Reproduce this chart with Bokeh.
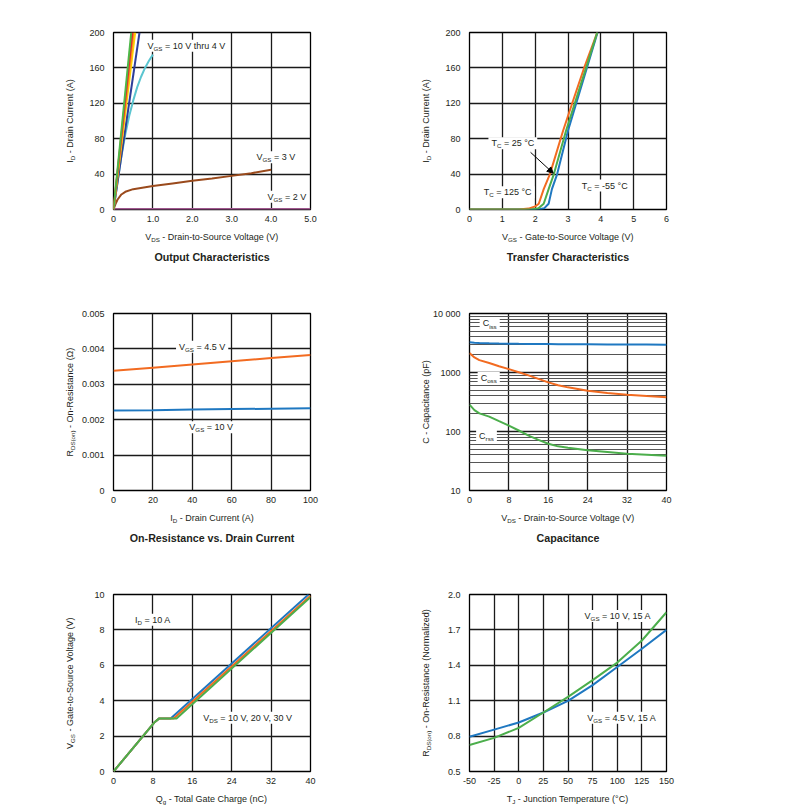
import math
from bokeh.plotting import figure
from bokeh.layouts import row, column
from bokeh.models import Range1d, FixedTicker, Label, Arrow, NormalHead
from bokeh.embed import file_html
from bokeh.resources import INLINE

FONT = "Liberation Sans"
INK = "#231f20"
FW, FH = 197, 177

# ---------------- data ----------------
# Output characteristics (VDS in V, ID in A)
oc_v_10 = [0, 0.45]; oc_i_10 = [0, 200]
oc_v_8 = [0, 0.48]; oc_i_8 = [0, 200]
oc_v_6 = [0, 0.51]; oc_i_6 = [0, 200]
oc_v_5 = [0, 0.55]; oc_i_5 = [0, 200]
oc_v_45 = [0, 0.66]; oc_i_45 = [0, 200]
oc_v_4 = [0, 0.1, 0.2, 0.3, 0.4, 0.5, 0.6, 0.7, 0.8, 0.9, 1.0]
oc_i_4 = [0, 30, 60, 85, 106, 123, 138, 150, 160, 168, 175]
oc_v_3 = [0, 0.05, 0.1, 0.2, 0.3, 0.5, 1.0, 1.5, 2.0, 2.5, 3.0, 3.5, 4.0]
oc_i_3 = [0, 6, 11, 17, 20, 23, 26.5, 29.5, 32.5, 35, 38, 41, 45]
oc_v_2 = [0, 5.0]; oc_i_2 = [0, 0]

# Transfer characteristics (VGS in V, ID in A)
tc_v_125 = [0, 1.5, 1.8, 2.0, 2.11, 2.26, 2.45, 2.85, 3.2, 3.5, 3.89]
tc_i_125 = [0, 0, 1, 3.5, 6.5, 23, 40, 89, 128, 161, 200]
tc_v_25 = [0, 1.9, 2.1, 2.26, 2.41, 2.57, 2.94, 3.25, 3.55, 3.89]
tc_i_25 = [0, 0, 1.5, 6.5, 23, 40, 89, 125, 160, 200]
tc_v_m55 = [0, 2.1, 2.28, 2.41, 2.51, 2.67, 3.0, 3.3, 3.6, 3.9]
tc_i_m55 = [0, 0, 1.5, 6.5, 23, 40, 89, 126, 163, 200]

# On-resistance vs drain current
rd_id = [0, 20, 40, 60, 80, 100]
rd_45 = [0.00338, 0.00347, 0.00356, 0.00365, 0.00374, 0.00383]
rd_10 = [0.00226, 0.00227, 0.00229, 0.0023, 0.00231, 0.00232]

# Capacitance (pF)
cap_v = [0, 1, 2, 4, 6, 8, 10, 12, 14, 16, 18, 20, 24, 28, 32, 36, 40]
cap_iss = [3250, 3200, 3170, 3130, 3100, 3080, 3060, 3050, 3040, 3030, 3020, 3010, 3000, 2990, 2980, 2970, 2960]
cap_oss = [2130, 1800, 1620, 1445, 1280, 1140, 1010, 893, 780, 680, 610, 560, 491, 450, 421, 398, 379]
cap_rss = [285, 230, 203, 179, 150, 126, 104, 85, 72, 62, 56, 53, 48, 45, 42, 40.5, 39]

# Gate charge (nC, V)
gc_q_10 = [0, 8.4, 9.3, 11.6, 39.6]; gc_v_10 = [0, 2.8, 3.0, 3.0, 10.0]
gc_q_20 = [0, 8.4, 9.3, 12.2, 40]; gc_v_20 = [0, 2.8, 3.0, 3.0, 9.93]
gc_q_30 = [0, 8.4, 9.3, 12.8, 40]; gc_v_30 = [0, 2.8, 3.0, 3.0, 9.85]

# Normalized on-resistance vs junction temperature
tj = [-50, -25, 0, 25, 50, 75, 100, 125, 150]
rn_45 = [0.795, 0.855, 0.915, 1.0, 1.098, 1.232, 1.386, 1.54, 1.70]
rn_10 = [0.725, 0.785, 0.87, 1.0, 1.132, 1.274, 1.423, 1.61, 1.85]

BLUE = "#1f78c1"
ORANGE = "#f26b21"
GREEN = "#4cae4c"

# ---------------- text helpers ----------------
AW = {' ': 278, '-': 333, '(': 333, ')': 333, '=': 584, '.': 278, ',': 278, '°': 400, 'Ω': 768,
      'A': 667, 'B': 667, 'C': 722, 'D': 722, 'E': 667, 'F': 611, 'G': 778, 'H': 722, 'I': 278,
      'J': 500, 'K': 667, 'L': 556, 'M': 833, 'N': 722, 'O': 778, 'P': 667, 'Q': 778, 'R': 722,
      'S': 667, 'T': 611, 'U': 722, 'V': 667, 'W': 944,
      'a': 556, 'b': 556, 'c': 500, 'd': 556, 'e': 556, 'f': 278, 'g': 556, 'h': 556, 'i': 222,
      'j': 222, 'k': 500, 'l': 222, 'm': 833, 'n': 556, 'o': 556, 'p': 556, 'q': 556, 'r': 333,
      's': 500, 't': 278, 'u': 556, 'v': 500, 'w': 722, 'x': 500, 'y': 500, 'z': 500}
for d in "0123456789":
    AW[d] = 556

SIZE = 9.0
SUB = 6.2


def tw(s, size):
    return sum(AW.get(c, 556) for c in s) * size / 1000.0


def rich(p, segs, x, y, dx=0.0, dy=0.0, angle=0.0, place=None, size=SIZE, sub=SUB):
    widths = [tw(t, sub if s else size) for t, s in segs]
    total = sum(widths)
    acc = -total / 2.0
    for (t, s), w in zip(segs, widths):
        fs = sub if s else size
        lead = len(t) - len(t.lstrip())
        off = acc + tw(t[:lead], fs)
        shift = -2.6 if s else 0.0
        if angle == 0:
            xo, yo = off, shift
        else:
            xo, yo = -shift, off
        lb = Label(x=x, y=y, x_offset=dx + xo, y_offset=dy + yo,
                   text=t.strip(), angle=angle, text_align="left", text_baseline="middle",
                   text_font=FONT, text_font_size=f"{fs}px", text_color=INK)
        if place:
            p.add_layout(lb, place)
        else:
            p.add_layout(lb)
        acc += w
    return total


def note(p, segs, x, y):
    widths = [tw(t, SUB if s else SIZE) for t, s in segs]
    total = sum(widths)
    p.rect(x=[x], y=[y], width=total + 6, height=12, width_units="screen",
           height_units="screen", fill_color="white", line_color=None)
    rich(p, segs, x, y)


def frame_texts(p, xr, yr, xsegs, ysegs, title=None, log=False):
    xmid = (xr[0] + xr[1]) / 2.0
    ymid = math.sqrt(yr[0] * yr[1]) if log else (yr[0] + yr[1]) / 2.0
    rich(p, xsegs, xmid, yr[0], dy=-27, place="below")
    rich(p, ysegs, xr[0], ymid, dx=-44, angle=math.pi / 2, place="left")
    if title:
        p.add_layout(Label(x=xmid, y=yr[0], y_offset=-47, text=title,
                           text_align="center", text_baseline="middle", text_font=FONT,
                           text_font_size="10.7px", text_font_style="bold", text_color=INK),
                     "below")


def make(xr, yr, xt, yt, xo, yo, left, right, top, bottom, log=False, yminor=None):
    p = figure(frame_width=FW, frame_height=FH, x_range=Range1d(*xr), y_range=Range1d(*yr),
               y_axis_type="log" if log else "linear", output_backend="svg",
               toolbar_location=None, min_border_left=left, min_border_right=right,
               min_border_top=top, min_border_bottom=bottom,
               background_fill_color="white", border_fill_color="white")
    p.outline_line_color = "black"
    p.outline_line_width = 1.3
    xtk = FixedTicker(ticks=xt)
    ytk = FixedTicker(ticks=yt, minor_ticks=yminor or [])
    p.xaxis.ticker = xtk
    p.yaxis.ticker = ytk
    p.xgrid.ticker = xtk
    p.ygrid.ticker = ytk
    p.xaxis.major_label_overrides = xo
    p.yaxis.major_label_overrides = yo
    for ax in (p.xaxis, p.yaxis):
        ax.axis_line_color = None
        ax.major_tick_out = 0
        ax.major_tick_in = 0
        ax.minor_tick_out = 0
        ax.minor_tick_in = 0
        ax.major_label_text_font = FONT
        ax.major_label_text_font_size = "9px"
        ax.major_label_text_color = INK
    p.xaxis.major_label_standoff = 6
    p.yaxis.major_label_standoff = 9
    for g in (p.xgrid, p.ygrid):
        g.grid_line_color = "#1a1a1a"
        g.grid_line_width = 1.3
    if yminor:
        p.ygrid.minor_grid_line_color = "#555555"
        p.ygrid.minor_grid_line_width = 1.0
    return p


def lab(vals, fmt):
    return {v: fmt(v) for v in vals}


L1, R1, L2, R2 = 113, 98, 61, 18
T1, T2, B12, B3 = 32, 24, 80, 30

# ---------------- panel 1: output characteristics ----------------
x1 = [0, 1, 2, 3, 4, 5]
y1 = [0, 40, 80, 120, 160, 200]
p1 = make((0, 5), (0, 200), x1, y1, {0: "0", 1: "1.0", 2: "2.0", 3: "3.0", 4: "4.0", 5: "5.0"},
          lab(y1, str), L1, R1, T1, B12)
note(p1, [("V", 0), ("GS", 1), (" = 10 V thru 4 V", 0)], 1.85, 185)
note(p1, [("V", 0), ("GS", 1), (" = 3 V", 0)], 4.12, 59)
note(p1, [("V", 0), ("GS", 1), (" = 2 V", 0)], 4.4, 14.5)
p1.line(oc_v_2, oc_i_2, line_color="#a0588f", line_width=3)
p1.line(oc_v_3, oc_i_3, line_color="#9a4a1c", line_width=2)
p1.line(oc_v_4, oc_i_4, line_color="#5bc5d0", line_width=2)
p1.line(oc_v_45, oc_i_45, line_color="#2e3f98", line_width=2)
p1.line(oc_v_5, oc_i_5, line_color="#ffd400", line_width=2)
p1.line(oc_v_6, oc_i_6, line_color="#f7941d", line_width=2)
p1.line(oc_v_8, oc_i_8, line_color="#e8262a", line_width=2)
p1.line(oc_v_10, oc_i_10, line_color="#4db848", line_width=2)
frame_texts(p1, (0, 5), (0, 200), [("V", 0), ("DS", 1), (" - Drain-to-Source Voltage (V)", 0)],
            [("I", 0), ("D", 1), (" - Drain Current (A)", 0)], "Output Characteristics")

# ---------------- panel 2: transfer characteristics ----------------
x2 = [0, 1, 2, 3, 4, 5, 6]
p2 = make((0, 6), (0, 200), x2, y1, lab(x2, str), lab(y1, str), L2, R2, T1, B12)
note(p2, [("T", 0), ("C", 1), (" = 25 °C", 0)], 1.32, 75)
note(p2, [("T", 0), ("C", 1), (" = 125 °C", 0)], 1.16, 19.5)
note(p2, [("T", 0), ("C", 1), (" = -55 °C", 0)], 4.12, 27)
p2.line(tc_v_m55, tc_i_m55, line_color=BLUE, line_width=2)
p2.line(tc_v_125, tc_i_125, line_color=ORANGE, line_width=2)
p2.line(tc_v_25, tc_i_25, line_color=GREEN, line_width=2)
p2.add_layout(Arrow(end=NormalHead(size=6, fill_color="black", line_color="black"),
                    x_start=1.86, y_start=64.6, x_end=2.55, y_end=41,
                    line_color="black", line_width=1))
frame_texts(p2, (0, 6), (0, 200), [("V", 0), ("GS", 1), (" - Gate-to-Source Voltage (V)", 0)],
            [("I", 0), ("D", 1), (" - Drain Current (A)", 0)], "Transfer Characteristics")

# ---------------- panel 3: on-resistance vs drain current ----------------
x3 = [0, 20, 40, 60, 80, 100]
y3 = [0, 0.001, 0.002, 0.003, 0.004, 0.005]
p3 = make((0, 100), (0, 0.005), x3, y3, lab(x3, str),
          {0: "0", 0.001: "0.001", 0.002: "0.002", 0.003: "0.003", 0.004: "0.004", 0.005: "0.005"},
          L1, R1, T2, B12)
note(p3, [("V", 0), ("GS", 1), (" = 4.5 V", 0)], 45, 0.00406)
note(p3, [("V", 0), ("GS", 1), (" = 10 V", 0)], 49.6, 0.00179)
p3.line(rd_id, rd_45, line_color=ORANGE, line_width=2)
p3.line(rd_id, rd_10, line_color=BLUE, line_width=2)
frame_texts(p3, (0, 100), (0, 0.005), [("I", 0), ("D", 1), (" - Drain Current (A)", 0)],
            [("R", 0), ("DS(on)", 1), (" - On-Resistance (Ω)", 0)], "On-Resistance vs. Drain Current")

# ---------------- panel 4: capacitance ----------------
x4 = [0, 8, 16, 24, 32, 40]
y4 = [10, 100, 1000, 10000]
y4m = [m * d for d in (10, 100, 1000) for m in range(2, 10)]
p4 = make((0, 40), (10, 10000), x4, y4, lab(x4, str),
          {10: "10", 100: "100", 1000: "1000", 10000: "10 000"}, L2, R2, T2, B12,
          log=True, yminor=y4m)
note(p4, [("C", 0), ("iss", 1)], 4.1, 6770)
note(p4, [("C", 0), ("oss", 1)], 3.9, 807)
note(p4, [("C", 0), ("rss", 1)], 3.45, 85)
p4.line(cap_v, cap_iss, line_color=BLUE, line_width=2)
p4.line(cap_v, cap_oss, line_color=ORANGE, line_width=2)
p4.line(cap_v, cap_rss, line_color=GREEN, line_width=2)
frame_texts(p4, (0, 40), (10, 10000), [("V", 0), ("DS", 1), (" - Drain-to-Source Voltage (V)", 0)],
            [("C - Capacitance (pF)", 0)], "Capacitance", log=True)

# ---------------- panel 5: gate charge ----------------
x5 = [0, 8, 16, 24, 32, 40]
y5 = [0, 2, 4, 6, 8, 10]
p5 = make((0, 40), (0, 10), x5, y5, lab(x5, str), lab(y5, str), L1, R1, T2, B3)
note(p5, [("I", 0), ("D", 1), (" = 10 A", 0)], 8, 8.57)
note(p5, [("V", 0), ("DS", 1), (" = 10 V, 20 V, 30 V", 0)], 27.4, 3.03)
p5.line(gc_q_10, gc_v_10, line_color=BLUE, line_width=2)
p5.line(gc_q_20, gc_v_20, line_color=ORANGE, line_width=2)
p5.line(gc_q_30, gc_v_30, line_color=GREEN, line_width=2)
frame_texts(p5, (0, 40), (0, 10), [("Q", 0), ("g", 1), (" - Total Gate Charge (nC)", 0)],
            [("V", 0), ("GS", 1), (" - Gate-to-Source Voltage (V)", 0)])

# ---------------- panel 6: normalized on-resistance ----------------
x6 = [-50, -25, 0, 25, 50, 75, 100, 125, 150]
y6 = [0.5, 0.8, 1.1, 1.4, 1.7, 2.0]
p6 = make((-50, 150), (0.5, 2.0), x6, y6, lab(x6, str),
          {0.5: "0.5", 0.8: "0.8", 1.1: "1.1", 1.4: "1.4", 1.7: "1.7", 2.0: "2.0"},
          L2, R2, T2, B3)
note(p6, [("V", 0), ("GS", 1), (" = 10 V, 15 A", 0)], 101, 1.817)
note(p6, [("V", 0), ("GS", 1), (" = 4.5 V, 15 A", 0)], 105, 0.955)
p6.line(tj, rn_45, line_color=BLUE, line_width=2)
p6.line(tj, rn_10, line_color=GREEN, line_width=2)
frame_texts(p6, (-50, 150), (0.5, 2.0), [("T", 0), ("J", 1), (" - Junction Temperature (°C)", 0)],
            [("R", 0), ("DS(on)", 1), (" - On-Resistance (Normalized)", 0)])

layout = column(row(p1, p2), row(p3, p4), row(p5, p6))
open("out.html", "w").write(file_html(layout, INLINE))
